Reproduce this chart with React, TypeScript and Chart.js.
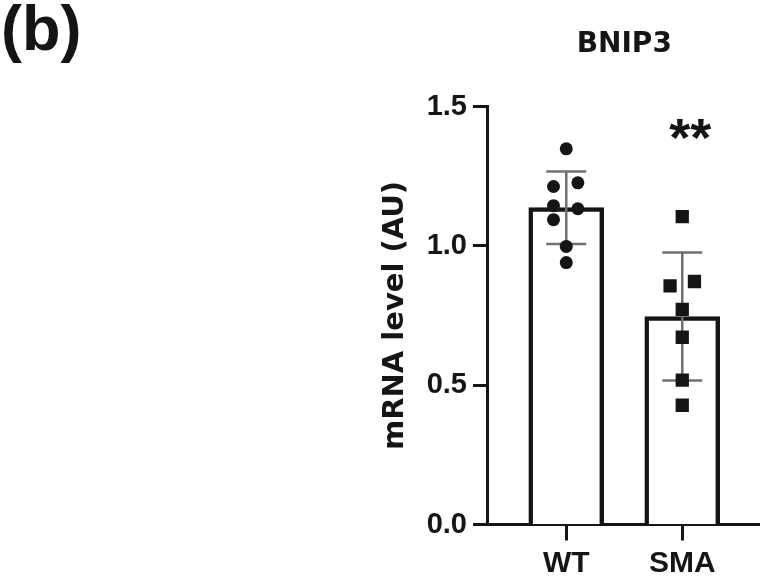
import React, { useEffect, useRef } from "react";
import { Chart, registerables } from "chart.js";

Chart.register(...registerables);

// ---- data ----
const categories = ["WT", "SMA"];
const wtValues = [1.348, 1.213, 1.226, 1.144, 1.133, 1.094, 0.998, 0.94];
const smaValues = [1.105, 0.856, 0.872, 0.772, 0.672, 0.518, 0.428];
// horizontal spread of the dots around each category (category units)
const wtJitter = [0, -0.11, 0.1, -0.11, 0.1, -0.11, 0, 0];
const smaJitter = [0, -0.105, 0.105, 0, 0, 0, 0];
const yTicks = [0, 0.5, 1.0, 1.5];
const chartTitle = "BNIP3";
const panelLabel = "(b)";
const yAxisTitle = "mRNA level (AU)";
const significance = "**";

const groups = [wtValues, smaValues];

const mean = (a: number[]) => a.reduce((s, v) => s + v, 0) / a.length;
const sd = (a: number[]) => {
  const m = mean(a);
  return Math.sqrt(a.reduce((s, v) => s + (v - m) ** 2, 0) / (a.length - 1));
};

const ARIAL = '"Liberation Sans", Arial, Helvetica, sans-serif';
const DEJAVU = '"DejaVu Sans", sans-serif';
const INK = "#151515";

const errorBarPlugin = {
  id: "errorBars",
  afterDatasetDraw(chart: any, args: any) {
    if (args.index !== 0) return;
    const { ctx } = chart;
    const x = chart.scales.x;
    const y = chart.scales.y;
    ctx.save();
    ctx.strokeStyle = "#707070";
    ctx.lineWidth = 2.5;
    groups.forEach((vals, i) => {
      const m = mean(vals);
      const s = sd(vals);
      const px = x.getPixelForValue(i + 1);
      const top = y.getPixelForValue(m + s);
      const bot = y.getPixelForValue(m - s);
      ctx.beginPath();
      ctx.moveTo(px, top);
      ctx.lineTo(px, bot);
      ctx.moveTo(px - 20, top);
      ctx.lineTo(px + 20, top);
      ctx.moveTo(px - 20, bot);
      ctx.lineTo(px + 20, bot);
      ctx.stroke();
    });
    ctx.restore();
  },
};

const textPlugin = {
  id: "texts",
  afterDraw(chart: any) {
    const { ctx, chartArea } = chart;
    const x = chart.scales.x;
    ctx.save();
    ctx.fillStyle = INK;

    // panel label
    ctx.font = `bold 63px ${ARIAL}`;
    ctx.textAlign = "left";
    ctx.textBaseline = "alphabetic";
    ctx.fillText(panelLabel, 1, 50);

    // title
    ctx.font = `bold 28px ${DEJAVU}`;
    ctx.textAlign = "center";
    const mid = (x.getPixelForValue(1) + x.getPixelForValue(2)) / 2;
    ctx.fillText(chartTitle, mid, 52);

    // significance
    ctx.font = `bold 54px ${ARIAL}`;
    ctx.fillText(significance, x.getPixelForValue(2) + 8, 156);

    // y axis title
    ctx.translate(395, (chartArea.top + chartArea.bottom) / 2);
    ctx.rotate(-Math.PI / 2);
    ctx.font = `bold 29px ${DEJAVU}`;
    ctx.textAlign = "center";
    ctx.textBaseline = "middle";
    ctx.fillText(yAxisTitle, 0, 0);
    ctx.restore();
  },
};

export default function App() {
  const ref = useRef<HTMLCanvasElement>(null);

  useEffect(() => {
    if (!ref.current) return;
    const means = groups.map(mean);
    const chart = new Chart(ref.current, {
      type: "bar",
      data: {
        datasets: [
          {
            type: "bar",
            data: categories.map((_, i) => ({ x: i + 1, y: means[i] })),
            backgroundColor: "#ffffff",
            borderColor: INK,
            borderWidth: 4.5,
            barThickness: 75,
            order: 3,
          } as any,
          {
            type: "scatter",
            data: wtValues.map((v, i) => ({ x: 1 + wtJitter[i], y: v })),
            pointStyle: "circle",
            pointRadius: 6.5,
            backgroundColor: INK,
            borderWidth: 0,
            order: 1,
          } as any,
          {
            type: "scatter",
            data: smaValues.map((v, i) => ({ x: 2 + smaJitter[i], y: v })),
            pointStyle: "rect",
            pointRadius: 9.4,
            backgroundColor: INK,
            borderWidth: 0,
            order: 1,
          } as any,
        ],
      },
      options: {
        responsive: false,
        animation: false,
        layout: { padding: { top: 106.5, left: 0, right: 0, bottom: 0 } },
        plugins: {
          legend: { display: false },
          tooltip: { enabled: false },
          title: { display: false },
        },
        scales: {
          x: {
            type: "linear",
            min: 0.3167,
            max: 2.6667,
            offset: false,
            grid: {
              display: true,
              drawOnChartArea: false,
              offset: false,
              drawTicks: true,
              tickLength: 16,
              tickWidth: 3,
              tickColor: INK,
            },
            border: { display: true, color: INK, width: 3 },
            afterBuildTicks: (s: any) => {
              s.ticks = categories.map((_, i) => ({ value: i + 1 }));
            },
            ticks: {
              callback: (v: any) => categories[Math.round(Number(v)) - 1] ?? "",
              font: { family: ARIAL, size: 30, weight: "bold" },
              color: INK,
              padding: 5,
              maxRotation: 0,
              autoSkip: false,
            },
            afterFit: (s: any) => {
              s.height = 53.5;
            },
          } as any,
          y: {
            type: "linear",
            min: 0,
            max: 1.5,
            grid: {
              display: true,
              drawOnChartArea: false,
              drawTicks: true,
              tickLength: 14,
              tickWidth: 3,
              tickColor: INK,
            },
            border: { display: true, color: INK, width: 3 },
            afterBuildTicks: (s: any) => {
              s.ticks = yTicks.map((v) => ({ value: v }));
            },
            ticks: {
              callback: (v: any) => Number(v).toFixed(1),
              font: { family: ARIAL, size: 29, weight: "bold" },
              color: INK,
              padding: 6,
            },
            afterFit: (s: any) => {
              s.width = 487;
            },
          } as any,
        },
      },
      plugins: [errorBarPlugin, textPlugin],
    });
    return () => chart.destroy();
  }, []);

  return (
    <div
      style={{
        position: "absolute",
        left: 0,
        top: 0,
        width: 769,
        height: 578,
        background: "#ffffff",
      }}
    >
      <canvas ref={ref} width={769} height={578} style={{ width: 769, height: 578 }} />
    </div>
  );
}
